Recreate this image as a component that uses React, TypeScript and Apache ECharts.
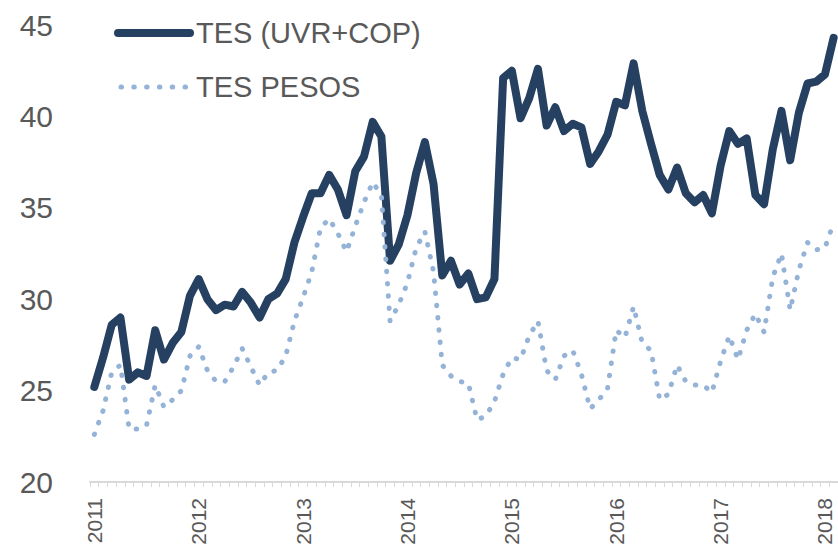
import React, { useEffect, useRef } from "react";
import * as echarts from "echarts";

const years = [2011, 2012, 2013, 2014, 2015, 2016, 2017, 2018];
const monthsInLastYear = 2;

const tesUvrCop = [
  25.2, 26.8, 28.6, 29.0, 25.6, 26.0, 25.8, 28.3, 26.7, 27.6, 28.2, 30.2,
  31.1, 30.0, 29.4, 29.7, 29.6, 30.4, 29.8, 29.0, 30.0, 30.3, 31.1, 33.1,
  34.5, 35.8, 35.8, 36.8, 36.0, 34.6, 37.0, 37.8, 39.7, 38.9, 32.1, 33.0,
  34.6, 36.9, 38.6, 36.3, 31.3, 32.1, 30.8, 31.4, 30.0, 30.1, 31.1, 42.1,
  42.5, 39.9, 41.0, 42.6, 39.5, 40.5, 39.2, 39.6, 39.4, 37.4, 38.1, 39.0,
  40.8, 40.6, 42.9, 40.3, 38.5, 36.8, 36.0, 37.2, 35.8, 35.3, 35.7, 34.7,
  37.3, 39.2, 38.5, 38.8, 35.7, 35.2, 38.2, 40.3, 37.6, 40.2, 41.8, 41.9,
  42.3, 44.3,
];

const tesPesos = [
  22.6, 23.9, 26.0, 26.4, 22.9, 22.9, 23.1, 25.3, 24.1, 24.5, 25.0, 26.9,
  27.4, 26.1, 25.5, 25.5, 26.3, 27.3, 26.3, 25.3, 26.0, 26.1, 26.9, 28.8,
  30.1, 31.5, 33.9, 34.4, 33.6, 32.6, 34.0, 35.3, 36.4, 35.7, 28.8, 29.7,
  30.9, 32.8, 33.7, 31.5, 26.4, 25.8, 25.5, 25.4, 23.4, 23.6, 24.4, 25.9,
  26.8, 26.7, 28.0, 28.8, 26.1, 25.6, 26.9, 27.2, 25.9, 24.0, 24.5, 25.1,
  28.3, 27.9, 29.6, 27.6, 27.2, 24.5, 24.8, 26.4, 25.5, 25.3, 25.3, 24.9,
  26.6, 28.0, 26.7, 28.3, 29.2, 28.2, 31.2, 32.5, 29.4, 31.6, 33.1, 32.7,
  32.8, 34.2,
];

const seriesNames = ["TES (UVR+COP)", "TES PESOS"];
const yTicks = { min: 20, max: 45, interval: 5 };

const categories: string[] = [];
years.forEach((y, yi) => {
  const n = yi === years.length - 1 ? monthsInLastYear : 12;
  for (let m = 1; m <= n; m++) categories.push(`${y}-${String(m).padStart(2, "0")}`);
});

const DARK = "#264061";
const LIGHT = "#95B3D7";
const TEXT = "#595959";
const FONT = "Arial, 'Liberation Sans', sans-serif";

export default function App() {
  const ref = useRef<HTMLDivElement>(null);
  useEffect(() => {
    if (!ref.current) return;
    const chart = echarts.init(ref.current, undefined, { renderer: "svg" });
    chart.setOption({
      animation: false,
      backgroundColor: "#ffffff",
      grid: { left: 90, top: 25, width: 748, bottom: 68, containLabel: false, outerBoundsMode: "none" },
      xAxis: {
        type: "category",
        data: categories,
        boundaryGap: true,
        axisLine: { show: true, lineStyle: { color: "#D9D9D9", width: 2 } },
        axisTick: { show: true, interval: 0, length: 5, lineStyle: { color: "#D9D9D9", width: 1 } },
        axisLabel: {
          interval: (idx: number) => idx % 12 === 0,
          formatter: (v: string) => v.slice(0, 4),
          rotate: 90,
          margin: 16,
          fontSize: 21,
          color: TEXT,
          fontFamily: FONT,
        },
        splitLine: { show: false },
      },
      yAxis: {
        type: "value",
        min: yTicks.min,
        max: yTicks.max,
        interval: yTicks.interval,
        axisLine: { show: false },
        axisTick: { show: false },
        splitLine: { show: false },
        axisLabel: { fontSize: 30, color: TEXT, fontFamily: FONT, margin: 37 },
      },
      series: [
        {
          name: seriesNames[0],
          type: "line",
          data: tesUvrCop,
          symbol: "none",
          lineStyle: { color: DARK, width: 8, join: "round", cap: "round" },
        },
        {
          name: seriesNames[1],
          type: "line",
          data: tesPesos,
          symbol: "none",
          lineStyle: { color: LIGHT, width: 5, type: [0.5, 11.8], cap: "round", join: "round" },
        },
      ],
      graphic: [
        {
          type: "line",
          shape: { x1: 118, y1: 33, x2: 190, y2: 33 },
          style: { stroke: DARK, lineWidth: 8, lineCap: "round" },
        },
        {
          type: "text",
          x: 196,
          y: 33,
          style: { text: seriesNames[0], fill: TEXT, font: `29px ${FONT}`, verticalAlign: "middle" },
        },
        {
          type: "line",
          shape: { x1: 121, y1: 87, x2: 186, y2: 87 },
          style: { stroke: LIGHT, lineWidth: 5, lineCap: "round", lineDash: [0.5, 12.3] },
        },
        {
          type: "text",
          x: 196,
          y: 87,
          style: { text: seriesNames[1], fill: TEXT, font: `29px ${FONT}`, verticalAlign: "middle" },
        },
      ],
    });
    return () => chart.dispose();
  }, []);
  return (
    <div
      ref={ref}
      style={{ position: "fixed", left: 0, top: 0, width: 838, height: 550, background: "#fff" }}
    />
  );
}
